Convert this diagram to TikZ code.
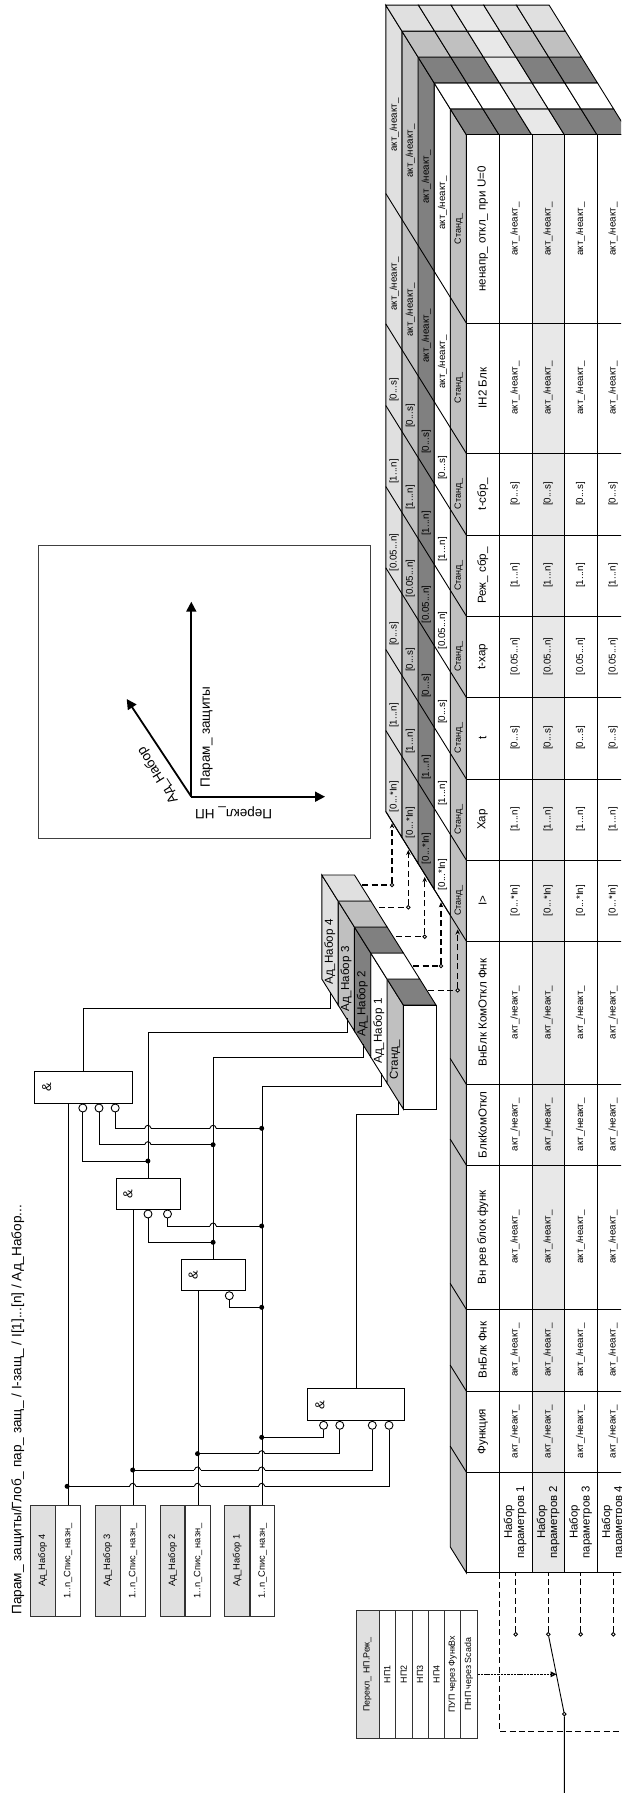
\documentclass[tikz,border=0pt]{standalone}
\usepackage{fontspec}
\setmainfont{Liberation Sans}
\usetikzlibrary{arrows.meta}
\definecolor{setfour}{RGB}{224,224,224}
\definecolor{setthree}{RGB}{192,192,192}
\definecolor{settwo}{RGB}{128,128,128}
\definecolor{altrow}{RGB}{232,232,232}
\tikzset{
  fsize/.style={font=\fontsize{#1}{12}\selectfont},
  hdtext/.style={rotate=90,inner sep=0pt,fsize=11.6},
  valtext/.style={rotate=90,inner sep=0pt,fsize=9.8},
  stdtext/.style={rotate=90,inner sep=0pt,fsize=9},
  setcell/.style={draw=black!80,rotate=90,minimum width=110.3pt,minimum height=24.5pt,inner sep=0pt,fsize=9.3},
  ctrlcell/.style={draw=black!80,rotate=90,minimum width=128.7pt,inner sep=0pt,fsize=8.9},
  gatebox/.style={draw,fill=white,minimum height=31.6pt,inner sep=0pt},
  gatesign/.style={rotate=90,inner sep=0pt,fsize=13},
  bubble/.style={draw,fill=white,circle,minimum size=8pt,inner sep=0pt},
  joint/.style={circle,fill=black,minimum size=5pt,inner sep=0pt},
  tapdot/.style={draw,fill=white,circle,minimum size=3.6pt,inner sep=0pt},
  dashwire/.style={line width=1.4pt,dash pattern=on 6pt off 3.4pt},
  wire/.style={line width=0.9pt},
  axisline/.style={line width=1.8pt,-{Triangle[length=10pt,width=10pt]}},
  axislabel/.style={inner sep=0pt,fsize=13.5}
}
\newcommand{\vakt}{акт\_/неакт\_}
\begin{document}
\begin{tikzpicture}[x=1pt,y=-1pt,wire]
  \useasboundingbox (0,0) rectangle (621,1793);
  \fill[white] (0,0) rectangle (621,1793);
  \clip (0,0) rectangle (621,1793);

  \node[rotate=90,anchor=west,inner sep=0pt,fsize=13.6] (title) at (17.8,1615) {Парам\_ защиты/Глоб\_ пар\_ защ\_ / I-защ\_ / I[1]...[n] / Ад\_Набор...};

  \foreach \k/\sd/\tp/\yb in {0/setthree/settwo/1572.7, 1/white/white/915.1, 2/settwo/settwo/889.2, 3/setthree/setthree/863.3, 4/setfour/setfour/837.4}{
    \filldraw[fill=\sd] (466.3-\k*16.1,134.7-\k*25.9) -- (450.2-\k*16.1,108.8-\k*25.9) -- (450.2-\k*16.1,\yb-25.9) -- (466.3-\k*16.1,\yb) -- cycle;
    \foreach \c in {0,...,4}{
      \ifnum\c=2 \def\cl{altrow}\else \def\cl{\tp}\fi
      \filldraw[fill=\cl] (466.3-\k*16.1+\c*32.66,134.7-\k*25.9) -- (499-\k*16.1+\c*32.66,134.7-\k*25.9) -- (482.9-\k*16.1+\c*32.66,108.8-\k*25.9) -- (450.2-\k*16.1+\c*32.66,108.8-\k*25.9) -- cycle;
    }
  }
  \foreach \y in {323,453.3,535,616,697.3,779,860,941}{
    \draw (466.3,\y) -- (385.8,\y-129.5);
  }
  \foreach \y in {1084.3,1165,1309.3,1391,1472}{
    \draw (466.3,\y) -- (450.2,\y-25.9);
  }

  \filldraw[fill=white] (466.3,134.7) rectangle (629.6,1572.7);
  \fill[altrow] (532,134.7) rectangle (564.6,1572.7);
  \foreach \x in {466.3,499,532,564.6,597}{
    \draw (\x,134.7) -- (\x,1572.7);
  }
  \foreach \y in {134.7,323,453.3,535,616,697.3,779,860,941,1084.3,1165,1309.3,1391,1472,1572.7}{
    \draw (466.3,\y) -- (629.6,\y);
  }

  \foreach \yc/\hd/\vl [count=\n] in {229/{ненапр\_ откл\_ при U=0}/\vakt, 388/{IН2 Блк}/\vakt, 494/{t-сбр\_}/{[0...s]}, 575.5/{Реж\_ сбр\_}/{[1...n]}, 656.5/{t-хар}/{[0.05...n]}, 738/{t}/{[0...s]}, 819.5/{Хар}/{[1...n]}, 900.5/{I>}/{[0...*In]}, 1012.5/{ВнБлк КомОткл Фнк}/\vakt, 1124.7/{БлкКомОткл}/\vakt, 1237/{Вн рев блок функ}/\vakt, 1350/{ВнБлк Фнк}/\vakt, 1431.5/{Функция}/\vakt}{
    \node[hdtext] (hd\n) at (482.7,\yc) {\hd};
    \foreach \cx [count=\m] in {515,548,580.5,613}{
      \node[valtext] (val\m-\n) at (\cx,\yc) {\vl};
    }
  }
  \foreach \cx/\nn in {515/1,548/2,580.5/3,613/4}{
    \node[hdtext,align=center,font=\fontsize{11.4}{12}\selectfont] (par\nn) at (\cx,1522) {Набор\\параметров \nn};
  }

  \foreach \yc/\vl [count=\n] in {229/\vakt, 388/\vakt, 494/{[0...s]}, 575.5/{[1...n]}, 656.5/{[0.05...n]}, 738/{[0...s]}, 819.5/{[1...n]}, 900.5/{[0...*In]}}{
    \node[stdtext] (std\n) at (458.6,\yc) {Станд\_};
    \foreach \k in {1,...,4}{
      \node[valtext] (lay\k-\n) at (458.6-\k*16.1,\yc-\k*26) {\vl};
    }
  }

  \foreach \k/\sd/\tp in {0/setthree/settwo, 1/white/white, 2/settwo/settwo, 3/setthree/setthree, 4/setfour/setfour}{
    \filldraw[fill=\sd] (403.3-\k*16.3,1005-\k*26) -- (387-\k*16.3,979-\k*26) -- (387-\k*16.3,1083-\k*26) -- (403.3-\k*16.3,1109-\k*26) -- cycle;
    \filldraw[fill=\tp] (403.3-\k*16.3,1005-\k*26) -- (436-\k*16.3,1005-\k*26) -- (419.7-\k*16.3,979-\k*26) -- (387-\k*16.3,979-\k*26) -- cycle;
  }
  \filldraw[fill=white] (403.3,1005) rectangle (436,1109);
  \foreach \nn/\tx/\x/\y in {4/{Ад\_Набор 4}/329.7/952, 3/{Ад\_Набор 3}/346/979, 2/{Ад\_Набор 2}/362.3/1004, 1/{Ад\_Набор 1}/378.7/1031, 0/{Станд\_}/395/1060}{
    \node[hdtext] (blk\nn) at (\x,\y) {\tx};
  }

  \foreach \nn/\xa/\xb/\xc in {4/30.9/55.4/79.8, 3/95.8/120.4/145, 2/160.8/185.3/210.3, 1/225.3/249.8/273.8}{
    \node[setcell,fill=setfour,anchor=south] (set\nn a) at (\xb,1560.8) {Ад\_Набор \nn};
    \node[setcell,anchor=north] (set\nn b) at (\xb,1560.8) {1..n\_Спис\_ назн\_};
  }

  \node[gatebox,minimum width=98pt] (gateA) at (83,1087.5) {};
  \node[gatebox,minimum width=64.6pt] (gateB) at (148.3,1194) {};
  \node[gatebox,minimum width=64pt] (gateC) at (213.5,1275) {};
  \node[gatebox,minimum width=97.5pt] (gateD) at (356,1404.5) {};
  \node[gatesign] (signA) at (46.7,1087) {\&};
  \node[gatesign] (signB) at (128,1194) {\&};
  \node[gatesign] (signC) at (193.3,1275) {\&};
  \node[gatesign] (signD) at (320,1405) {\&};

  \foreach \nm/\x/\y in {bA1/82.8/1108, bA2/99/1108, bA3/115.2/1108, bB1/148/1214, bB2/167.5/1214, bC1/229.3/1295.7, bD1/323.6/1425.3, bD2/339.8/1425.3, bD3/372.3/1425.3, bD4/389/1425.3}{
    \node[bubble] (\nm) at (\x,\y) {};
  }
  \foreach \nm/\x/\y in {jA1/147.9/1161, jA2/213.1/1144.7, jA3/261.7/1128.3, jB1/213.1/1242.3, jB2/261.7/1226, jC1/261.7/1307.3, jD1/261.7/1437.3, jD2/197.5/1453.7, jD3/132.7/1470, jD4/67.1/1486.3}{
    \coordinate (\nm) at (\x,\y);
  }

  \draw (bA1.south) |- (jA1);
  \draw (bA2.south) |- (jA2);
  \draw (bA3.south) |- (jA3);
  \draw (bB1.south) |- (jB1);
  \draw (bB2.south) |- (jB2);
  \draw (bC1.south) |- (jC1);
  \draw (bD1.south) |- (jD1);
  \draw (bD2.south) |- (jD2);
  \draw (bD3.south) |- (jD3);
  \draw (bD4.south) |- (jD4);
  \foreach \hx/\hy in {147.9/1128.3, 213.1/1128.3, 147.9/1144.7, 213.1/1226, 132.7/1486.3, 197.5/1486.3, 261.7/1486.3, 197.5/1470, 261.7/1470, 261.7/1453.7}{
    \fill[white] (\hx-3.2,\hy-1) rectangle (\hx+3.2,\hy+1);
    \draw (\hx-3.2,\hy) .. controls (\hx-2.2,\hy-4) and (\hx+2.2,\hy-4) .. (\hx+3.2,\hy);
  }

  \draw (set4b.east) -- (set4b.east |- gateA.south);
  \draw (set3b.east) -- (set3b.east |- gateB.south);
  \draw (set2b.east) -- (set2b.east |- gateC.south);
  \coordinate (turnA) at (330.7,1008.7);
  \coordinate (turnB) at (347,1032.7);
  \coordinate (turnC) at (363,1057.3);
  \coordinate (turnE) at (381.4,1086.7);
  \coordinate (turnD) at (398.8,1114.7);
  \coordinate (inA) at (330.7,992.2);
  \coordinate (inB) at (347,1018);
  \coordinate (inC) at (363,1044);
  \coordinate (inE) at (381.4,1073);
  \coordinate (inD) at (398.8,1101.4);
  \draw (gateA.north) |- (turnA) -- (inA);
  \draw (gateB.north) |- (turnB) -- (inB);
  \draw (gateC.north) |- (turnC) -- (inC);
  \draw (set1b.east) |- (turnE) -- (inE);
  \draw (gateD.north) |- (turnD) -- (inD);
  \foreach \nm in {jA1,jA2,jA3,jB1,jB2,jC1,jD1,jD2,jD3,jD4}{
    \node[joint] (dot\nm) at (\nm) {};
  }

  \foreach \n/\xa/\xb/\yb/\yt in {4/362.3/392/885/823.3, 3/379/408.3/907.3/850, 2/396/424.7/936.7/877, 1/413.3/441/966/902.3, 0/428.3/457.7/990.3/929.5}{
    \coordinate (from\n) at (\xa,\yb);
    \coordinate (to\n) at (\xb,\yt);
    \node[tapdot] (tap\n) at (\xb,\yb) {};
    \draw[dashwire] (from\n) -- (tap\n);
    \draw[dashwire,-{Stealth[length=5pt,width=4.4pt]}] (tap\n) -- (to\n);
  }

  \draw[black!75] (38.4,545.7) rectangle (370.7,838.7);
  \coordinate (org) at (191.3,796.7);
  \coordinate (axtop) at (191.3,601.7);
  \coordinate (axright) at (325,796.7);
  \coordinate (axleft) at (126.7,699);
  \draw[axisline] (org) -- (axtop);
  \draw[axisline] (org) -- (axright);
  \draw[axisline] (org) -- (axleft);
  \node[axislabel,rotate=90] (labpar) at (206.7,737) {Парам\_ защиты};
  \node[axislabel,rotate=180] (labhp) at (233.7,812.7) {Перекл\_ НП};
  \node[axislabel,rotate=122] (labset) at (158,775) {Ад\_Набор};

  \foreach \nn/\x/\w/\tx [count=\n] in {0/367.5/23/{Перекл\_ НП.Реж\_}, 1/387.3/16.7/{НП1}, 2/403.8/16.3/{НП2}, 3/420.1/16.3/{НП3}, 4/436.5/16.4/{НП4}, 5/452.7/16/{ПУП через ФункВх}, 6/468.9/16.3/{ПНП через Scada}}{
    \ifnum\n=1 \def\cl{setfour}\else \def\cl{white}\fi
    \node[ctrlcell,fill=\cl,minimum height=\w pt] (ctrl\nn) at (\x,1674.3) {\tx};
  }

  \coordinate (tblbot) at (499.3,1572.7);
  \coordinate (cornerbl) at (499.3,1731.7);
  \coordinate (cornerbr) at (640,1731.7);
  \coordinate (cornertr) at (640,1572.7);
  \draw[dashwire] (tblbot) -- (cornerbl) -- (cornerbr);
  \draw[dashwire] (tblbot) -- (cornertr);
  \foreach \n/\x in {1/515.7,2/548.3,3/580.7,4/613.3}{
    \node[tapdot] (sw\n) at (\x,1634.3) {};
    \draw[dashwire] (sw\n) -- (sw\n |- tblbot);
  }
  \node[tapdot] (pivot) at (564.3,1714) {};
  \coordinate (outend) at (564.3,1793);
  \draw (sw2) -- (pivot) -- (outend);
  \coordinate (swmid) at (556.6,1674.3);
  \draw[line width=1.4pt,dash pattern=on 2.4pt off 0.9pt,-{Triangle[open,length=6pt,width=5.5pt]}] (ctrl6.south) -- (swmid);
\end{tikzpicture}
\end{document}
